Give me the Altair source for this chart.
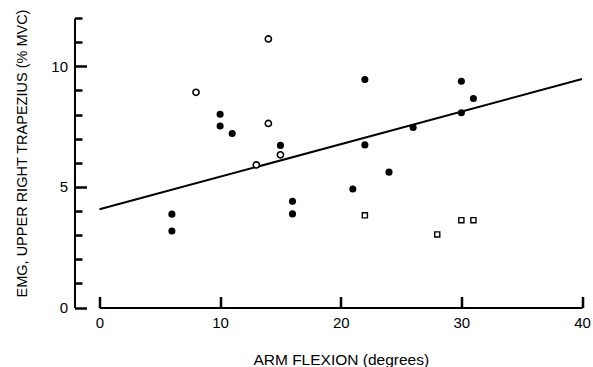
import altair as alt
import pandas as pd

# Data
filled_x = [6, 6, 10, 10, 11, 15, 16, 16, 21, 22, 22, 24, 26, 30, 30, 31]
filled_y = [3.87, 3.17, 8.01, 7.52, 7.21, 6.72, 4.40, 3.88, 4.91, 9.45, 6.74, 5.61, 7.46, 9.38, 8.07, 8.66]
open_x = [8, 13, 14, 14, 15]
open_y = [8.92, 5.91, 11.13, 7.63, 6.33]
square_x = [22, 28, 30, 31]
square_y = [3.82, 3.03, 3.62, 3.62]
line_x = [0, 40]
line_y = [4.07, 9.47]
x_ticks = [0, 10, 20, 30, 40]
y_major = [0, 5, 10]
y_minor = [1, 2, 3, 4, 6, 7, 8, 9, 11, 12]

FONT = "Liberation Sans"
W, H = 482.5, 289.5
YOFF = 25

xs = alt.Scale(domain=[0, 40], nice=False, zero=False)
ys = alt.Scale(domain=[0, 12], nice=False, zero=False)

x_axis = alt.Axis(values=x_ticks, ticks=False, tickSize=0, grid=False, domainColor="black",
                  domainWidth=2, labelPadding=8, labelFont=FONT, labelFontSize=15,
                  labelColor="black", title="ARM FLEXION (degrees)", titleFont=FONT,
                  titleFontSize=15.5, titleFontWeight="normal", titleColor="black",
                  titlePadding=22, labelFlush=False)
y_axis = alt.Axis(values=y_major, ticks=False, tickSize=0, grid=False, domainColor="black",
                  domainWidth=2, offset=YOFF, labelPadding=7, labelFont=FONT, labelFontSize=15,
                  labelColor="black", title="EMG, UPPER RIGHT TRAPEZIUS (% MVC)", titleFont=FONT,
                  titleFontSize=14.5, titleFontWeight="normal", titleColor="black",
                  titlePadding=21, titleY=135, labelFlush=False)

# inward-pointing ticks, drawn by extra axes placed on top of the main axis lines
x_tick_axis = alt.Axis(orient="top", offset=-H, values=x_ticks, labels=False, domain=False,
                       grid=False, ticks=True, tickSize=11, tickWidth=2.5, tickColor="black", title=None)
y_major_axis = alt.Axis(orient="right", offset=-(W + YOFF), values=y_major, labels=False,
                        domain=False, grid=False, ticks=True, tickSize=12, tickWidth=2.5,
                        tickColor="black", title=None)
y_minor_axis = alt.Axis(orient="right", offset=-(W + YOFF), values=y_minor, labels=False,
                        domain=False, grid=False, ticks=True, tickSize=7.5, tickWidth=2.5,
                        tickColor="black", title=None)

df_f = pd.DataFrame({"x": filled_x, "y": filled_y})
df_o = pd.DataFrame({"x": open_x, "y": open_y})
df_s = pd.DataFrame({"x": square_x, "y": square_y})
df_l = pd.DataFrame({"x": line_x, "y": line_y})

line = alt.Chart(df_l).mark_line(color="black", strokeWidth=2).encode(
    x=alt.X("x:Q", scale=xs, axis=x_axis),
    y=alt.Y("y:Q", scale=ys, axis=y_axis),
)

filled = alt.Chart(df_f).mark_point(shape="circle", filled=True, color="black", size=50, opacity=1).encode(
    x=alt.X("x:Q", scale=xs, axis=x_tick_axis), y=alt.Y("y:Q", scale=ys, axis=y_major_axis))
opens = alt.Chart(df_o).mark_point(shape="circle", filled=False, color="black", size=38,
                                   strokeWidth=1.6, fill="white", fillOpacity=1, opacity=1).encode(
    x=alt.X("x:Q", scale=xs, axis=None), y=alt.Y("y:Q", scale=ys, axis=y_minor_axis))
squares = alt.Chart(df_s).mark_point(shape="square", filled=False, color="black", size=26,
                                     strokeWidth=1.4, opacity=1).encode(
    x=alt.X("x:Q", scale=xs, axis=None), y=alt.Y("y:Q", scale=ys, axis=None))

chart = alt.layer(line, filled, opens, squares).resolve_axis(
    x="independent", y="independent"
).properties(
    width=W, height=H,
    autosize=alt.AutoSizeParams(type="none"),
    padding={"left": 99.5, "top": 18, "right": 11, "bottom": 59.5},
    background="white",
).configure_view(stroke=None)

chart.save("out.html", embed_options={"renderer": "svg", "actions": False})
